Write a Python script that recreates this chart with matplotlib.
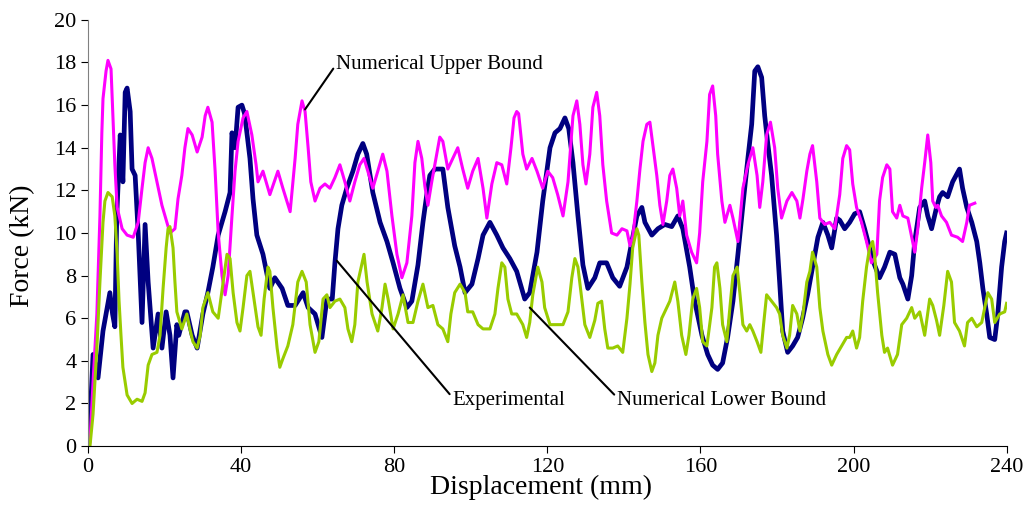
import matplotlib
matplotlib.use('Agg')
import matplotlib.pyplot as plt

plt.rcParams['font.family'] = ['Liberation Serif', 'DejaVu Serif']

# Experimental (navy)
exp_x = [0, 0.6, 1.3, 2.6, 3.9, 5.0, 5.7, 6.4, 7.0, 7.5, 8.4, 9.1, 9.7, 10.2, 11.0, 11.5, 12.3, 13.1,
         14.1, 14.9, 15.7, 17.0, 18.3, 19.3, 20.4, 21.4, 22.2, 23.2, 23.7, 25.3, 25.8, 27.2, 28.5, 30.0,
         31.3, 32.6, 34.0, 35.8, 37.1, 37.6, 38.4, 39.2, 40.2, 40.9, 42.3, 43.1, 44.1, 45.7, 47.5, 48.8,
         50.7, 52.2, 54.1, 56.2, 57.5, 59.3, 61.1, 62.4, 63.8, 64.5, 65.3, 66.3, 67.6, 69.2, 70.5, 71.8,
         72.8, 74.4, 76.3, 78.1, 79.7, 81.5, 83.3, 84.6, 86.2, 87.5, 88.5, 89.3, 90.6, 92.7, 94.0, 95.8,
         97.2, 98.5, 100.3, 101.9, 103.2, 105.0, 106.8, 108.4, 110.2, 112.0, 114.1, 115.4, 117.3, 118.8,
         120.7, 122.0, 123.3, 124.6, 125.6, 126.7, 128.0, 129.3, 130.6, 132.4, 133.7, 135.5, 137.1, 138.9,
         140.8, 142.1, 143.4, 144.7, 145.5, 147.3, 148.9, 150.7, 152.5, 154.1, 155.4, 157.2, 158.5, 160.4,
         161.9, 163.2, 164.5, 165.8, 167.1, 168.5, 169.8, 171.1, 172.4, 173.4, 174.2, 175.0, 176.0, 176.8,
         177.6, 178.6, 179.9, 180.7, 181.5, 182.8, 184.1, 185.4, 186.7, 188.0, 189.3, 190.7, 192.0, 193.3,
         194.3, 195.6, 196.4, 197.7, 199.0, 200.3, 201.6, 202.9, 204.2, 205.5, 206.8, 208.1, 209.5, 210.8,
         212.1, 212.9, 214.2, 215.2, 216.0, 217.3, 218.6, 219.4, 220.4, 221.7, 222.5, 223.3, 224.6, 225.9,
         227.7, 228.5, 229.6, 230.9, 232.2, 233.0, 233.8, 234.8, 235.6, 236.9, 237.7, 238.7, 239.5, 240.0]
exp_y = [0.0, 1.5, 4.3, 3.2, 5.4, 6.5, 7.2, 6.2, 5.6, 10.8, 14.6, 12.4, 16.6, 16.8, 15.7, 13.0, 12.7, 10.0,
         5.8, 10.4, 7.7, 4.6, 6.2, 4.6, 6.3, 5.2, 3.2, 5.7, 5.2, 6.3, 6.3, 5.2, 4.6, 6.2,
         7.2, 8.4, 9.9, 11.0, 11.9, 14.7, 14.0, 15.9, 16.0, 15.6, 13.5, 11.6, 9.9, 9.0, 7.4, 7.9,
         7.4, 6.6, 6.6, 7.2, 6.5, 6.2, 5.1, 6.9, 6.9, 8.6, 10.2, 11.3, 12.1, 12.9, 13.7, 14.2,
         13.7, 11.9, 10.5, 9.6, 8.6, 7.4, 6.5, 6.8, 8.5, 10.5, 11.8, 12.7, 13.0, 13.0, 11.2, 9.4,
         8.4, 7.2, 7.6, 8.8, 9.9, 10.5, 9.9, 9.3, 8.8, 8.2, 6.9, 7.2, 9.1, 11.5,
         14.0, 14.7, 14.9, 15.4, 14.9, 13.3, 10.8, 8.5, 7.4, 7.9, 8.6, 8.6, 7.9, 7.5,
         8.4, 9.6, 10.8, 11.2, 10.5, 9.9, 10.2, 10.4, 10.3, 10.8, 10.2, 8.4, 6.8, 5.2,
         4.3, 3.8, 3.6, 3.9, 5.1, 6.8, 9.0, 11.3, 13.5, 15.1, 17.6, 17.8, 17.3, 15.5,
         14.2, 12.7, 9.9, 7.7, 5.4, 4.4, 4.7, 5.1, 6.0, 7.1, 8.4, 9.8, 10.5, 9.9,
         9.3, 10.7, 10.6, 10.2, 10.5, 10.9, 11.0, 10.2, 9.3, 8.5, 7.9, 8.4, 9.1, 9.0,
         7.9, 7.6, 6.9, 8.0, 9.6, 11.2, 11.5, 10.8, 10.2, 11.2, 11.7, 11.9, 11.7, 12.4,
         13.0, 12.1, 11.2, 10.5, 9.6, 8.6, 7.4, 6.2, 5.1, 5.0, 6.2, 8.4, 9.6, 10.0]

# Numerical upper bound (magenta)
up_x = [0.5, 1.3, 2.3, 3.1, 3.6, 3.9, 4.7, 5.2, 6.0, 6.5, 7.0, 7.6, 8.9, 10.2, 11.8, 13.1, 14.1, 14.9,
        15.7, 16.7, 18.0, 19.3, 20.6, 21.4, 22.7, 23.5, 24.5, 25.3, 26.1, 27.2, 28.5, 29.8, 30.6, 31.3,
        32.4, 33.2, 34.0, 35.0, 35.8, 36.6, 37.6, 38.4, 39.2, 40.5, 41.5, 42.8, 43.9, 44.4, 45.7, 47.5,
        49.6, 50.9, 52.8, 54.1, 54.8, 55.9, 56.7, 57.5, 58.2, 59.3, 60.6, 61.9, 63.2, 64.5, 65.8, 67.1,
        68.4, 69.7, 71.0, 72.1, 73.1, 74.4, 75.7, 77.0, 78.1, 79.4, 80.7, 82.0, 83.3, 84.6, 85.4, 86.2,
        87.2, 88.0, 88.8, 89.8, 91.1, 91.9, 92.7, 94.0, 95.3, 96.6, 97.9, 99.2, 100.5, 101.9, 103.2, 104.2,
        105.5, 106.8, 108.1, 109.4, 110.5, 111.3, 112.0, 112.5, 113.6, 114.6, 116.0, 117.3, 118.8, 120.1,
        121.4, 122.7, 124.1, 125.4, 126.7, 127.7, 128.5, 129.3, 130.1, 131.1, 131.9, 132.9, 133.7, 134.5,
        135.5, 136.8, 138.2, 139.5, 140.8, 141.6, 142.3, 143.4, 144.2, 145.0, 146.0, 146.8, 147.6, 148.6,
        149.4, 150.2, 151.2, 152.0, 152.8, 153.8, 154.6, 155.4, 156.4, 157.7, 159.0, 159.8, 160.6, 161.7,
        162.4, 163.2, 164.0, 164.5, 165.6, 166.4, 167.7, 168.5, 169.8, 171.1, 172.4, 173.7, 174.8, 175.5,
        176.3, 177.3, 178.3, 179.4, 180.2, 181.2, 182.6, 183.9, 185.2, 186.0, 186.8, 187.8, 188.6, 189.3,
        190.4, 191.2, 192.5, 193.8, 195.1, 196.4, 197.2, 198.2, 199.0, 199.8, 200.8, 202.1, 203.4, 204.7,
        206.1, 206.8, 207.6, 208.7, 209.5, 210.2, 211.3, 212.1, 212.9, 214.2, 215.2, 216.0, 216.8, 217.8,
        218.6, 219.4, 220.2, 220.7, 221.5, 222.0, 223.0, 224.3, 225.6, 227.2, 228.5, 229.6, 230.3, 231.7]
up_y = [0.2, 3.0, 6.2, 10.8, 14.7, 16.3, 17.6, 18.1, 17.7, 15.5, 13.2, 11.2, 10.2, 9.9, 9.8, 10.5, 12.1, 13.3,
        14.0, 13.5, 12.4, 11.3, 10.5, 10.0, 10.2, 11.6, 12.7, 14.0, 14.9, 14.6, 13.8, 14.5, 15.5, 15.9,
        15.2, 12.9, 10.0, 8.0, 7.1, 8.0, 10.8, 12.9, 14.3, 15.4, 15.7, 14.6, 13.2, 12.4, 12.9, 11.8,
        12.9, 12.1, 11.0, 13.5, 15.1, 16.2, 15.7, 14.0, 12.4, 11.5, 12.1, 12.3, 12.1, 12.6, 13.2, 12.4,
        11.5, 12.4, 13.2, 13.5, 12.9, 12.1, 12.9, 13.7, 12.9, 10.8, 9.0, 7.9, 8.6, 10.8, 13.3, 14.3,
        13.5, 12.2, 11.3, 12.4, 13.7, 14.5, 14.3, 13.0, 13.5, 14.0, 13.0, 12.1, 12.9, 13.5, 12.1, 10.7,
        12.3, 13.3, 13.2, 12.3, 14.0, 15.4, 15.7, 15.6, 13.7, 13.0, 13.5, 12.9, 12.1, 12.9,
        12.6, 11.8, 10.8, 12.4, 15.5, 16.2, 15.1, 13.2, 12.3, 13.7, 15.9, 16.6, 15.5, 13.2,
        11.5, 10.0, 9.9, 10.2, 10.1, 9.4, 9.8, 11.5, 13.0, 14.3, 15.1, 15.2, 14.1, 12.7,
        11.3, 10.4, 11.5, 12.7, 13.0, 12.1, 10.8, 11.5, 9.9, 9.1, 8.6, 10.0, 12.4, 14.3,
        16.5, 16.9, 15.5, 13.7, 11.5, 10.5, 11.3, 10.7, 9.6, 12.1, 13.2, 14.0, 12.7, 11.2,
        12.4, 14.6, 15.2, 14.0, 12.1, 10.7, 11.5, 11.9, 11.5, 10.7, 11.6, 12.9, 13.7, 14.1,
        12.4, 10.7, 10.4, 10.5, 10.2, 11.8, 13.5, 14.1, 13.9, 12.3, 11.2, 10.5, 9.6, 8.6,
        9.0, 11.5, 12.6, 13.2, 13.0, 11.0, 10.7, 11.3, 10.8, 10.7, 9.8, 9.1, 10.2, 12.1,
        13.3, 14.6, 13.3, 11.5, 11.2, 11.3, 10.8, 10.5, 9.9, 9.8, 9.6, 10.5, 11.3, 11.4]

# Numerical lower bound (yellow-green)
lo_x = [0.5, 1.3, 2.3, 3.1, 3.9, 4.4, 5.2, 6.3, 7.0, 7.6, 8.1, 8.6, 9.1, 10.2, 11.5, 12.8, 14.1, 14.9,
        15.7, 16.7, 18.0, 18.8, 19.6, 20.4, 20.9, 21.4, 22.2, 22.7, 23.2, 24.5, 25.8, 26.6, 27.4, 28.5,
        29.3, 30.0, 31.3, 32.6, 34.0, 35.3, 36.3, 37.1, 37.9, 38.9, 39.7, 40.5, 41.5, 42.3, 43.1, 44.4,
        45.2, 46.0, 47.0, 47.5, 48.3, 49.4, 50.1, 50.9, 52.2, 53.5, 54.8, 55.9, 57.0, 58.0, 59.3, 60.3,
        61.4, 62.4, 63.2, 64.5, 65.8, 67.1, 67.9, 68.9, 69.7, 70.5, 71.6, 72.1, 72.9, 74.2, 75.7, 76.8,
        77.6, 78.4, 79.7, 81.0, 82.3, 83.6, 84.9, 86.2, 87.5, 88.8, 90.1, 91.4, 92.7, 94.0, 94.8, 95.8,
        97.2, 98.5, 99.2, 100.5, 101.9, 103.2, 105.0, 106.3, 107.1, 108.1, 108.9, 109.7, 110.7, 112.0,
        113.6, 114.6, 115.4, 116.2, 117.5, 118.6, 119.3, 120.7, 122.5, 124.1, 125.4, 126.4, 127.2, 128.0,
        129.0, 129.8, 131.1, 132.4, 133.2, 134.2, 135.0, 135.8, 137.1, 138.4, 139.7, 140.8, 141.6, 142.3,
        143.4, 143.9, 144.7, 145.5, 146.3, 147.3, 148.1, 148.9, 149.9, 151.2, 152.0, 153.3, 154.1, 155.1,
        156.2, 157.0, 158.0, 159.0, 159.8, 160.6, 161.7, 163.0, 163.7, 164.3, 165.1, 165.8, 166.9, 167.7,
        168.5, 169.6, 170.3, 171.1, 172.1, 172.9, 173.7, 174.8, 175.8, 176.5, 177.3, 178.6, 179.9, 180.7,
        181.5, 182.6, 183.3, 184.1, 185.2, 186.0, 186.8, 187.8, 188.6, 189.3, 190.4, 191.2, 192.0, 193.3,
        194.3, 195.6, 196.9, 198.2, 199.0, 199.8, 200.8, 201.6, 202.4, 203.4, 204.2, 205.0, 205.5, 206.3,
        207.4, 208.1, 208.9, 210.2, 211.5, 212.6, 213.9, 215.2, 216.0, 217.3, 218.6, 219.9, 220.7, 221.7,
        222.5, 223.6, 224.6, 225.6, 226.4, 227.7, 229.0, 229.8, 230.9, 232.2, 233.5, 234.3, 235.1, 236.1,
        236.9, 238.2, 239.5, 240.0]
lo_y = [0.0, 1.5, 4.6, 7.7, 10.5, 11.5, 11.9, 11.7, 10.8, 9.0, 6.8, 5.2, 3.7, 2.4, 2.0, 2.2, 2.1, 2.5,
        3.8, 4.3, 4.4, 5.2, 7.4, 9.3, 10.2, 10.3, 9.3, 7.7, 6.3, 5.5, 6.2, 5.5, 4.9, 4.6,
        5.2, 6.5, 7.2, 6.3, 6.0, 7.7, 9.0, 8.8, 7.2, 5.8, 5.4, 6.5, 8.0, 8.2, 7.2, 5.6,
        5.2, 6.9, 8.4, 8.2, 6.5, 4.6, 3.7, 4.1, 4.7, 5.7, 7.7, 8.2, 7.7, 5.7, 4.4, 4.9,
        6.9, 7.1, 6.5, 6.8, 6.9, 6.5, 5.5, 4.9, 5.7, 7.7, 8.6, 9.0, 7.7, 6.2, 5.4, 6.5,
        7.6, 6.9, 5.5, 6.2, 7.1, 5.8, 5.8, 6.8, 7.6, 6.5, 6.6, 5.7, 5.5, 4.9, 6.2, 7.2,
        7.6, 7.2, 6.3, 6.3, 5.7, 5.5, 5.5, 6.2, 7.4, 8.6, 8.4, 6.9, 6.2, 6.2,
        5.7, 5.1, 5.8, 7.1, 8.4, 7.7, 6.5, 5.7, 5.7, 5.7, 6.3, 7.9, 8.8, 8.4,
        6.9, 5.7, 5.1, 5.9, 6.7, 6.8, 5.5, 4.6, 4.6, 4.7, 4.4, 6.0, 7.6, 9.3,
        10.2, 9.9, 7.7, 5.8, 4.3, 3.5, 3.9, 5.2, 6.0, 6.5, 6.8, 7.7, 6.8, 5.2,
        4.3, 5.2, 6.9, 7.4, 6.5, 4.9, 4.7, 6.5, 8.4, 8.6, 7.4, 5.7, 4.9, 6.5,
        8.0, 8.4, 7.2, 5.7, 5.4, 5.7, 5.4, 4.9, 4.4, 5.7, 7.1, 6.8, 6.5, 6.2,
        5.2, 4.6, 5.2, 6.6, 6.2, 5.4, 6.2, 7.7, 8.2, 9.1, 8.4, 6.5, 5.4, 4.3,
        3.8, 4.3, 4.7, 5.1, 5.1, 5.4, 4.6, 5.1, 6.8, 8.4, 9.3, 9.6, 9.0, 7.2,
        5.2, 4.4, 4.6, 3.8, 4.3, 5.7, 6.0, 6.5, 6.0, 6.3, 5.2, 6.9, 6.6, 5.9,
        5.2, 6.6, 8.2, 7.7, 5.8, 5.4, 4.7, 5.8, 6.0, 5.6, 5.8, 6.5, 7.2, 6.9,
        5.8, 6.2, 6.3, 6.7]

fig = plt.figure(figsize=(10.24, 5.23), dpi=100)
ax = fig.add_axes([0.086, 0.147, 0.897, 0.815])

ax.plot(exp_x, exp_y, color='#000080', linewidth=3.4)
ax.plot(up_x, up_y, color='#FF00FF', linewidth=2.2)
ax.plot(lo_x, lo_y, color='#99CC00', linewidth=2.2)

ax.set_xlim(0, 240)
ax.set_ylim(0, 20)
ax.set_xticks(range(0, 241, 40))
ax.set_yticks(range(0, 21, 2))
ax.spines['top'].set_visible(False)
ax.spines['right'].set_visible(False)
ax.spines['left'].set_color('#808080')
ax.tick_params(direction='out', length=5, labelsize=16)
ax.set_xlabel('Displacement (mm)', fontsize=20)
ax.set_ylabel('Force (kN)', fontsize=20)
ax.xaxis.set_label_coords(0.493, -0.068)
ax.yaxis.set_label_coords(-0.058, 0.47)

# labels with leader lines
line = dict(arrowstyle='-', color='black', lw=1.5, shrinkA=0, shrinkB=0)
ax.annotate('Numerical Upper Bound', xy=(56.7, 15.8), xytext=(64.8, 17.9),
            fontsize=15, va='center', ha='left',
            arrowprops=dict(line, relpos=(0, 0.5)))
ax.annotate('Experimental', xy=(65.0, 8.7), xytext=(95.2, 2.15),
            fontsize=15, va='center', ha='left',
            arrowprops=dict(line, relpos=(0, 0.65)))
ax.annotate('Numerical Lower Bound', xy=(115.4, 6.5), xytext=(138.2, 2.15),
            fontsize=15, va='center', ha='left',
            arrowprops=dict(line, relpos=(0, 0.65)))

fig.savefig('out.png', dpi=100)
